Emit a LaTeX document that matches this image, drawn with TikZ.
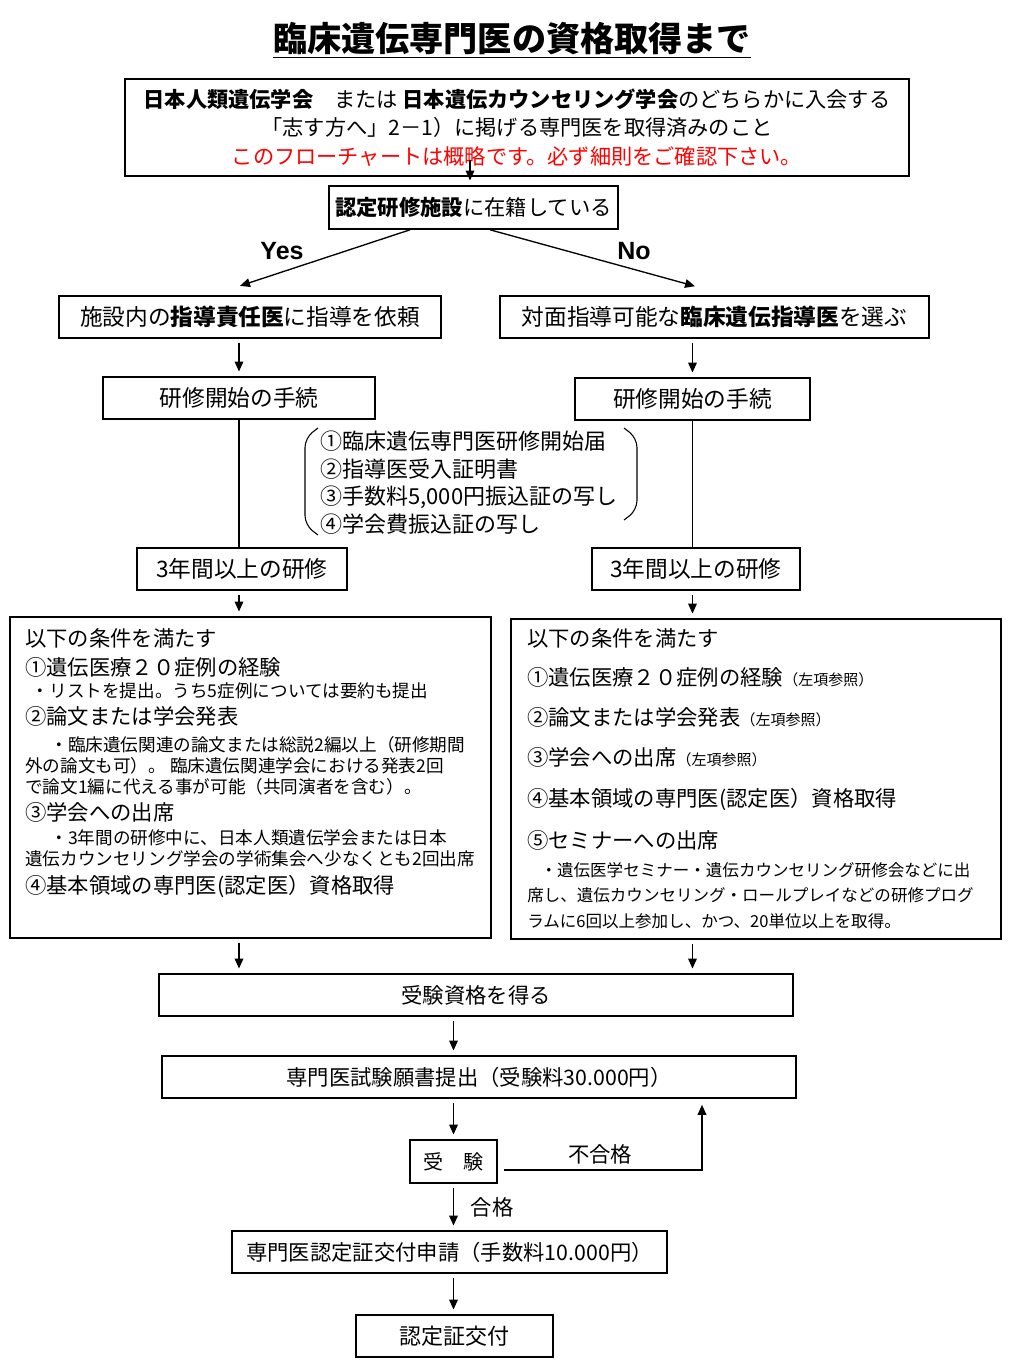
\documentclass[tikz,border=0pt]{standalone}
\usepackage{fontspec}
\setmainfont{Noto Sans CJK JP}
\newfontfamily\latinbold{Liberation Sans}
\usetikzlibrary{arrows.meta}

\newcommand{\notesize}{\fontsize{13.2}{15.75}\selectfont}
\newcommand{\seminarsize}{\fontsize{12.4}{15.75}\selectfont}
\newcommand{\refsize}{\fontsize{11.25}{15.75}\selectfont}

\begin{document}
\begin{tikzpicture}[x=0.75pt, y=-0.75pt,
  box/.style={draw, line width=1.2pt, inner sep=0pt, align=center, font=\fontsize{16}{21.4}\selectfont},
  wire/.style={line width=1pt},
  arr/.style={wire, -{Triangle[length=7.5pt, width=6.5pt]}, shorten <=3pt, shorten >=3.5pt},
  cond/.style={anchor=north west, inner sep=0pt, align=left, font=\fontsize{16}{15.75}\selectfont},
  tag/.style={inner sep=0pt, font=\fontsize{16}{18}\selectfont}]

  \useasboundingbox (0,0) rectangle (1024,1365);

  \node[font=\fontsize{25.6}{28}\selectfont\bfseries] (title) at (512,40) {\underline{臨床遺伝専門医の資格取得まで}};

  \node[box, font=\fontsize{15.9}{21.4}\selectfont, minimum width=588pt, minimum height=72.75pt] (join) at (517,127.5)
    {{\bfseries 日本人類遺伝学会}　または {\bfseries 日本遺伝カウンセリング学会}のどちらかに入会する\\
     「志す方へ」2－1）に掲げる専門医を取得済みのこと\\
     \textcolor{red}{このフローチャートは概略です。必ず細則をご確認下さい。}};

  \node[box, minimum width=216.75pt, minimum height=32.25pt] (reg) at (473.5,207.5) {{\bfseries 認定研修施設}に在籍している};

  \node[font=\latinbold\bfseries\fontsize{18.75}{20}\selectfont] (yes) at (282,251) {Yes};
  \node[font=\latinbold\bfseries\fontsize{18.75}{20}\selectfont] (no) at (634,251) {No};

  \node[box, font=\fontsize{17}{20}\selectfont, minimum width=286.5pt, minimum height=31.5pt] (inhouse) at (250,317) {施設内の{\bfseries 指導責任医}に指導を依頼};
  \node[box, font=\fontsize{17}{20}\selectfont, minimum width=321.75pt, minimum height=31.5pt] (choose) at (714.5,317) {対面指導可能な{\bfseries 臨床遺伝指導医}を選ぶ};

  \node[box, font=\fontsize{17}{20}\selectfont, minimum width=204pt, minimum height=31.5pt] (startL) at (239,398) {研修開始の手続};
  \node[box, font=\fontsize{17}{20}\selectfont, minimum width=176.25pt, minimum height=31.5pt] (startR) at (692.5,399) {研修開始の手続};

  \node[anchor=west, align=left, inner sep=0pt, font=\fontsize{16.5}{20.8}\selectfont] (docs) at (320,482.5)
    {①臨床遺伝専門医研修開始届\\②指導医受入証明書\\③手数料5,000円振込証の写し\\④学会費振込証の写し};
  \draw[line width=0.8pt, rounded corners=7pt] (318,428) -- (305,438) -- (305,525) -- (318,535);
  \draw[line width=0.8pt, rounded corners=7pt] (624,428) -- (637,438) -- (637,510) -- (624,520);

  \node[box, font=\fontsize{17}{20}\selectfont, minimum width=157.5pt, minimum height=31.5pt] (trainL) at (242,569) {3年間以上の研修};
  \node[box, font=\fontsize{17}{20}\selectfont, minimum width=156pt, minimum height=31.5pt] (trainR) at (696,569) {3年間以上の研修};

  \node[box, minimum width=360.75pt, minimum height=240.75pt] (condL) at (250.5,777.5) {};
  \node[cond] (listL) at (25,628)
    {以下の条件を満たす\\[6pt]
     ①遺伝医療２０症例の経験\\[1.2pt]
     {\notesize\hspace*{5pt}・リストを提出。うち5症例については要約も提出}\\[4.6pt]
     ②論文または学会発表\\[4.2pt]
     {\notesize\hspace*{19pt}・臨床遺伝関連の論文または総説2編以上（研修期間}\\
     {\notesize 外の論文も可）。 臨床遺伝関連学会における発表2回}\\
     {\notesize で論文1編に代える事が可能（共同演者を含む）。}\\[4.6pt]
     ③学会への出席\\[1.8pt]
     {\notesize\hspace*{19pt}・3年間の研修中に、日本人類遺伝学会または日本}\\[0.6pt]
     {\notesize 遺伝カウンセリング学会の学術集会へ少なくとも2回出席}\\[4.6pt]
     ④基本領域の専門医(認定医）資格取得};

  \node[box, minimum width=367.5pt, minimum height=240pt] (condR) at (756,779) {};
  \node[cond] (listR) at (527,628)
    {以下の条件を満たす\\[13.5pt]
     ①遺伝医療２０症例の経験{\refsize（左項参照）}\\[14.25pt]
     ②論文または学会発表{\refsize（左項参照）}\\[14.25pt]
     ③学会への出席{\refsize（左項参照）}\\[15pt]
     ④基本領域の専門医(認定医）資格取得\\[14pt]
     ⑤セミナーへの出席\\[5.4pt]
     {\seminarsize\hspace*{10pt}・遺伝医学セミナー・遺伝カウンセリング研修会などに出}\\[3pt]
     {\seminarsize 席し、遺伝カウンセリング・ロールプレイなどの研修プログ}\\[3.75pt]
     {\seminarsize ラムに6回以上参加し、かつ、20単位以上を取得。}};

  \node[box, minimum width=475.5pt, minimum height=31.5pt] (qualify) at (476,995) {受験資格を得る};
  \node[box, minimum width=475.5pt, minimum height=31.5pt] (apply) at (479,1077) {専門医試験願書提出（受験料30.000円）};
  \node[box, font=\fontsize{15}{18}\selectfont, minimum width=65.25pt, minimum height=32.25pt] (exam) at (453.5,1161.5) {受　験};
  \node[box, minimum width=326.25pt, minimum height=31.5pt] (certapply) at (449.5,1252) {専門医認定証交付申請（手数料10.000円）};
  \node[box, font=\fontsize{16.5}{20}\selectfont, minimum width=147.75pt, minimum height=31.5pt] (cert) at (454.5,1336) {認定証交付};

  \node[tag] (fail) at (600,1154) {不合格};
  \node[tag] (pass) at (492,1207) {合格};

  \coordinate (entry) at (470,160);
  \draw[arr, shorten <=0pt] (entry) -- (entry |- reg.north);
  \draw[arr, shorten <=0pt, shorten >=0pt] ([xshift=-47.6pt]reg.south) -- ([xshift=-7.5pt, yshift=7pt]inhouse.north);
  \draw[arr, shorten <=0pt, shorten >=0pt] ([xshift=12.4pt]reg.south) -- ([xshift=-14.6pt, yshift=6.75pt]choose.north);

  \draw[arr] (startL.north |- inhouse.south) -- (startL.north);
  \draw[arr] (startR.north |- choose.south) -- (startR.north);
  \draw[wire] (startL.south) -- (startL.south |- trainL.north);
  \draw[wire] (startR.south) -- (startR.south |- trainR.north);
  \draw[arr] (startL.south |- trainL.south) -- (startL.south |- condL.north);
  \draw[arr] (startR.south |- trainR.south) -- (startR.south |- condR.north);
  \draw[arr] (startL.south |- condL.south) -- (startL.south |- qualify.north);
  \draw[arr] (startR.south |- condR.south) -- (startR.south |- qualify.north);

  \draw[arr] (exam |- qualify.south) -- (exam |- apply.north);
  \draw[arr] (exam |- apply.south) -- (exam.north);
  \draw[arr] (exam.south) -- (exam |- certapply.north);
  \draw[arr] (exam |- certapply.south) -- (exam |- cert.north);
  \draw[arr, shorten <=0pt, shorten >=4.5pt] ([xshift=4.5pt, yshift=-6.4pt]exam.east) -| ([xshift=167.25pt]apply.south);

\end{tikzpicture}
\end{document}
